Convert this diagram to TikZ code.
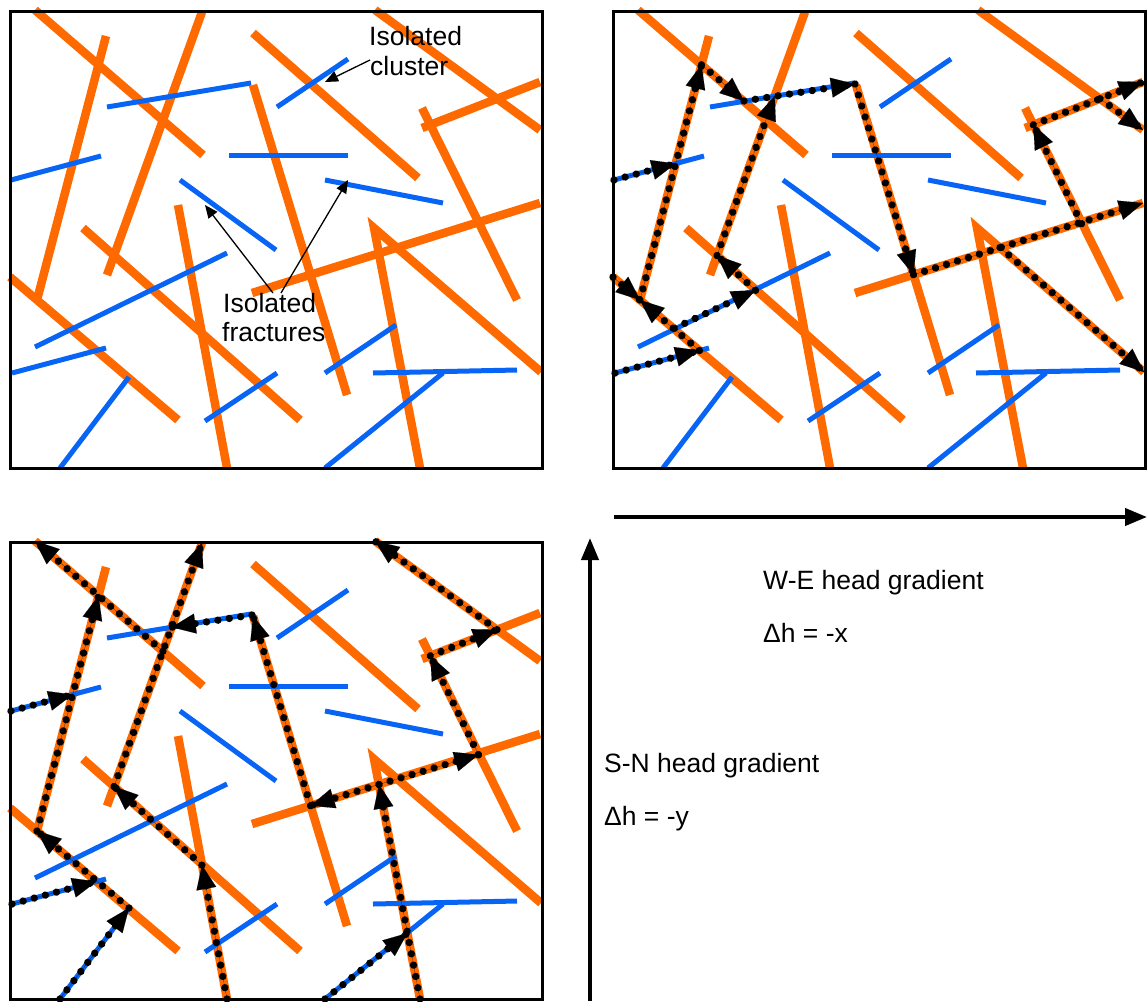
\documentclass[tikz,border=0pt]{standalone}
\usepackage{fontspec}
\setmainfont{Liberation Sans}
\usetikzlibrary{arrows.meta,decorations.markings}
\definecolor{frorange}{RGB}{255,106,0}
\definecolor{frblue}{RGB}{8,100,245}
\tikzset{
  ofrac/.style={frorange, line width=8.5pt},
  bfrac/.style={frblue, line width=5pt},
  flow/.style={draw=black, line width=0.1pt,
    -{Triangle[length=24pt,width=20pt]},
    postaction={decorate, decoration={markings,
      mark=between positions 0 and 1 step 11.5pt with {\fill[black] (0,0) circle (3.7pt);}}}},
  panelbox/.style={black, line width=3pt},
  lbl/.style={font=\fontsize{26.5}{31}\selectfont, anchor=base west, inner sep=0pt},
  callout/.style={black, line width=1.3pt, -{Triangle[length=13pt,width=11pt]}},
  grad/.style={black, line width=4pt, -{Triangle[length=22pt,width=17pt]}},
}
\newcommand\fracpoints{%
  \coordinate (A) at (98.5,64.8);
  \coordinate (Bp) at (141,101);
  \coordinate (C) at (252,84);
  \coordinate (D) at (310.5,274.7);
  \coordinate (E) at (397,247.5);
  \coordinate (F) at (478.5,223.7);
  \coordinate (G) at (430.3,124.8);
  \coordinate (H) at (497,98.7);
  \coordinate (I) at (171.6,96.2);
  \coordinate (J) at (114,255.5);
  \coordinate (K) at (152.5,290.3);
  \coordinate (L) at (71.3,328.2);
  \coordinate (M) at (37,300);
  \coordinate (N) at (96.4,350.5);
  \coordinate (P) at (72.6,163.6);
  \coordinate (Q) at (162.9,120.3);
  \coordinate (R) at (201.9,334.1);
  \coordinate (S) at (129,377);
  \coordinate (T) at (379,253.4);
  \coordinate (U) at (407.3,402.2);
  \coordinate (o1a) at (35,10);
  \coordinate (o3a) at (202,12);
  \coordinate (o5a) at (253,85);
  \coordinate (o6a) at (375,10);
  \coordinate (o6b) at (540,130);
  \coordinate (o8b) at (540,82);
  \coordinate (o9b) at (540,203);
  \coordinate (o10b) at (420,468);
  \coordinate (o11b) at (541,372);
  \coordinate (o13a) at (10,277);
  \coordinate (o14b) at (227,468);
  \coordinate (b2a) at (11,180);
  \coordinate (b8a) at (12,373);
  \coordinate (b9a) at (60,468);
  \coordinate (b13a) at (325,468);
}
\newcommand\fracnet{%
  % orange (connected) fractures
  \draw[ofrac] (o1a) -- (203,155);
  \draw[ofrac] (106,36) -- (M);
  \draw[ofrac] (o3a) -- (107,275);
  \draw[ofrac] (253,33) -- (418,178);
  \draw[ofrac] (o5a) -- (347,395);
  \draw[ofrac] (o6a) -- (o6b);
  \draw[ofrac] (422,108) -- (517,300);
  \draw[ofrac] (422,128) -- (o8b);
  \draw[ofrac] (252,293) -- (o9b);
  \draw[ofrac] (o10b) -- (374,228) -- (o11b);
  \draw[ofrac] (83,228) -- (300,420);
  \draw[ofrac] (o13a) -- (178,420);
  \draw[ofrac] (178,205) -- (o14b);
  % blue (isolated) fractures
  \draw[bfrac] (107,107) -- (251,83);
  \draw[bfrac] (b2a) -- (101,156);
  \draw[bfrac] (229,155) -- (348,155);
  \draw[bfrac] (180,180) -- (276,250);
  \draw[bfrac] (277,107) -- (348,59);
  \draw[bfrac] (325,180) -- (443,203);
  \draw[bfrac] (35,347) -- (227,253);
  \draw[bfrac] (b8a) -- (106,348);
  \draw[bfrac] (b9a) -- (S);
  \draw[bfrac] (205,421) -- (277,373);
  \draw[bfrac] (325,373) -- (396,325);
  \draw[bfrac] (373,373) -- (517,370);
  \draw[bfrac] (b13a) -- (443,373);
}
\begin{document}
\begin{tikzpicture}[x=1pt,y=-1pt]
\useasboundingbox (0,0) rectangle (1147,1001);

% ---------- panel 1: network with labels ----------
\begin{scope}
  \fracpoints
  \fracnet
  \draw[panelbox] (10,11) rectangle (542,468);
  \node[lbl] (iso1) at (369,45) {Isolated};
  \node[lbl] (iso2) at (370,75) {cluster};
  \node[lbl] (fr1) at (223,312) {Isolated};
  \node[lbl] (fr2) at (222,341) {fractures};
  \coordinate (c1) at (370,60);
  \coordinate (c1t) at (325,82);
  \coordinate (f1) at (273,293);
  \coordinate (f1t) at (205,205);
  \coordinate (f2) at (281,293);
  \coordinate (f2t) at (348,180);
  \draw[callout] (c1) -- (c1t);
  \draw[callout] (f1) -- (f1t);
  \draw[callout] (f2) -- (f2t);
\end{scope}

% ---------- panel 2: W-E flow ----------
\begin{scope}[shift={(603,0)}]
  \fracpoints
  \fracnet
  \draw[flow] (b2a) -- (P);
  \draw[flow] (o13a) -- (M);
  \draw[flow] (N) -- (M);
  \draw[flow] (b8a) -- (N);
  \draw[flow] (M) -- (A);
  \draw[flow] (A) -- (Bp);
  \draw[flow] (Bp) -- (C);
  \draw[flow] (C) -- (D);
  \draw[flow] (D) -- (o9b);
  \draw[flow] (E) -- (o11b);
  \draw[flow] (F) -- (G);
  \draw[flow] (G) -- (o8b);
  \draw[flow] (H) -- (o6b);
  \draw[flow] (L) -- (K);
  \draw[flow] (K) -- (J);
  \draw[flow] (J) -- (I);
  \draw[panelbox] (10,11) rectangle (542,468);
\end{scope}

% ---------- panel 3: S-N flow ----------
\begin{scope}[shift={(0,531)}]
  \fracpoints
  \fracnet
  \draw[flow] (Q) -- (o1a);
  \draw[flow] (J) -- (o3a);
  \draw[flow] (R) -- (J);
  \draw[flow] (o14b) -- (R);
  \draw[flow] (M) -- (A);
  \draw[flow] (S) -- (M);
  \draw[flow] (b9a) -- (S);
  \draw[flow] (b8a) -- (N);
  \draw[flow] (b2a) -- (P);
  \draw[flow] (D) -- (o5a);
  \draw[flow] (C) -- (I);
  \draw[flow] (T) -- (D);
  \draw[flow] (T) -- (F);
  \draw[flow] (o10b) -- (T);
  \draw[flow] (b13a) -- (U);
  \draw[flow] (F) -- (G);
  \draw[flow] (G) -- (H);
  \draw[flow] (H) -- (o6a);
  \draw[panelbox] (10,11) rectangle (542,468);
\end{scope}

% ---------- gradients ----------
\coordinate (weS) at (614,517);
\coordinate (weE) at (1147,517);
\coordinate (snS) at (590,1001);
\coordinate (snN) at (590,538);
\draw[grad] (weS) -- (weE);
\draw[grad] (snS) -- (snN);
\node[lbl] (we1) at (763,589) {W-E head gradient};
\node[lbl] (we2) at (763,642) {Δh = -x};
\node[lbl] (sn1) at (604,772) {S-N head gradient};
\node[lbl] (sn2) at (604,825) {Δh = -y};
\end{tikzpicture}
\end{document}
